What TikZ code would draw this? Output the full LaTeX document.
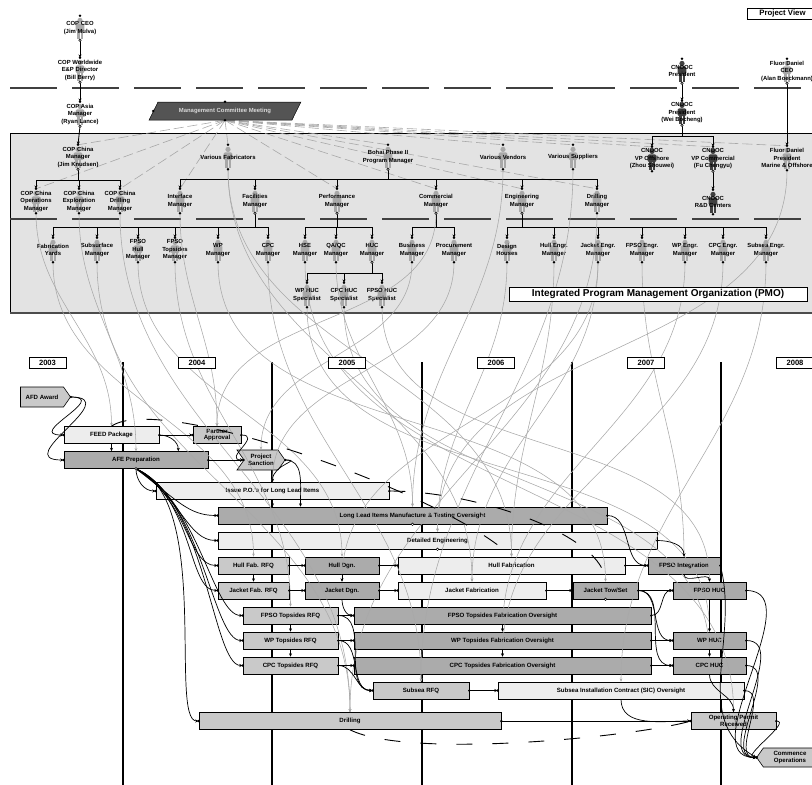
\documentclass[tikz,border=0pt]{standalone}
\usepackage{fontspec}
\setmainfont{Liberation Sans}
\usetikzlibrary{arrows.meta,shapes.geometric,shapes.symbols}

\definecolor{panelgray}{gray}{0.89}
\definecolor{tasklight}{gray}{0.93}
\definecolor{taskmid}{gray}{0.79}
\definecolor{taskdark}{gray}{0.67}
\definecolor{iconlight}{gray}{0.66}
\definecolor{icondark}{gray}{0.25}
\definecolor{linkgray}{gray}{0.66}
\definecolor{mcmfill}{gray}{0.33}

\newcommand{\orgfont}{\fontsize{5.9}{7.5}\selectfont\bfseries}
\newcommand{\taskfont}{\fontsize{6.1}{6.9}\selectfont\bfseries}
\newcommand{\yearfont}{\fontsize{7.6}{8}\selectfont\bfseries}

\pgfdeclarelayer{bg}
\pgfdeclarelayer{icons}
\pgfsetlayers{bg,icons,main}

\begin{document}
\begin{tikzpicture}[x=1pt, y=-1pt, >={Stealth[length=3.4pt,width=3pt]},
  org/.style={font=\orgfont, align=center, inner sep=0pt, minimum height=24pt},
  task/.style={draw, line width=0.6pt, font=\taskfont, align=center, inner sep=0pt, minimum height=17pt},
  light/.style={task, fill=tasklight}, mid/.style={task, fill=taskmid}, dark/.style={task, fill=taskdark},
  tag/.style={mid, shape=signal, signal pointer angle=110},
  yearbox/.style={draw, line width=0.7pt, fill=white, font=\yearfont, minimum width=37pt, minimum height=11pt, inner sep=0pt},
  tree/.style={line width=0.8pt, ->}, bus/.style={line width=0.8pt},
  dep/.style={line width=0.7pt, ->},
  depdash/.style={line width=0.9pt, dash pattern=on 16pt off 20pt},
  glink/.style={linkgray, line width=0.55pt, -{Stealth[length=3pt,width=2.6pt]}},
  mcmlink/.style={linkgray, line width=0.6pt, dash pattern=on 10pt off 4pt},
  sepline/.style={line width=1.5pt, black!75, dash pattern=on 47pt off 15pt},
  mcm/.style={trapezium, trapezium left angle=42, trapezium right angle=138, trapezium stretches=true,
    minimum width=152pt, minimum height=18pt, inner sep=0pt, draw, line width=0.5pt, fill=mcmfill,
    text=gray!30, font=\orgfont}]
\useasboundingbox (0,0) rectangle (812,785);

% background: PMO panel, level lines, years
\begin{pgfonlayer}{bg}
\fill[panelgray] (10,133) rectangle (814,313);
\draw[line width=0.6pt] (814,133) -- (10,133) -- (10,313);
\draw[line width=1.4pt, black!70] (10,313) -- (814,313);
\draw[sepline] (10,88) -- (812,88);
\draw[sepline] (10,219) -- (812,219);
\foreach \x in {123,272,422,572,721}
  \draw[line width=1.6pt] (\x,362) -- (\x,785);
\end{pgfonlayer}

% owners
\node[org] (ceo) at (80,28) {COP CEO\\(Jim Mulva)};
\node[org] (eapdir) at (80,70) {COP Worldwide\\E\&P Director\\(Bill Berry)};
\node[org] (asia) at (80,114) {COP Asia\\Manager\\(Ryan Lance)};
\node[org] (cnoocpres) at (682,71) {CNOOC\\President};
\node[org] (cnoocceo) at (682,113) {CNOOC\\President\\(Wei Bocheng)};
\node[org] (fluorceo) at (787,71) {Fluor Daniel\\CEO\\(Alan Boeckmann)};
\node[mcm] (mcm) at (225,111) {Management Committee Meeting};

% PMO, first level
\node[org] (china) at (78,157) {COP China\\Manager\\(Jim Knudsen)};
\node[org] (fabricators) at (228,157) {Various Fabricators};
\node[org] (bohai) at (388,157) {Bohai Phase II\\Program Manager};
\node[org] (vendors) at (503,157) {Various Vendors};
\node[org] (suppliers) at (573,157) {Various Suppliers};
\node[org] (vpoff) at (652,159) {CNOOC\\VP Offshore\\(Zhou Shouwei)};
\node[org] (vpcom) at (713,159) {CNOOC\\VP Commercial\\(Fu Chengyu)};
\node[org] (fluorpres) at (787,158) {Fluor Daniel\\President\\Marine \& Offshore};

% PMO, second level
\node[org] (chinaops) at (36,201) {COP China\\Operations\\Manager};
\node[org] (chinaexp) at (79,201) {COP China\\Exploration\\Manager};
\node[org] (chinadrl) at (120,201) {COP China\\Drilling\\Manager};
\node[org] (interface) at (180,201) {Interface\\Manager};
\node[org] (facilities) at (255,201) {Facilities\\Manager};
\node[org] (performance) at (337,201) {Performance\\Manager};
\node[org] (commercial) at (436,201) {Commercial\\Manager};
\node[org] (engineering) at (522,201) {Engineering\\Manager};
\node[org] (drillmgr) at (597,201) {Drilling\\Manager};
\node[org] (rnd) at (713,202) {CNOOC\\R\&D Centers};

% PMO, third level
\node[org] (fabyards) at (53,250) {Fabrication\\Yards};
\node[org] (subsurface) at (97,250) {Subsurface\\Manager};
\node[org] (fpsohull) at (138,250) {FPSO\\Hull\\Manager};
\node[org] (fpsotops) at (175,250) {FPSO\\Topsides\\Manager};
\node[org] (wpmgr) at (218,250) {WP\\Manager};
\node[org] (cpcmgr) at (268,250) {CPC\\Manager};
\node[org] (hse) at (305,250) {HSE\\Manager};
\node[org] (qaqc) at (336,250) {QA/QC\\Manager};
\node[org] (huc) at (372,250) {HUC\\Manager};
\node[org] (business) at (412,250) {Business\\Manager};
\node[org] (procurement) at (454,250) {Procurement\\Manager};
\node[org] (designh) at (507,250) {Design\\Houses};
\node[org] (hulleng) at (554,250) {Hull Engr.\\Manager};
\node[org] (jacketeng) at (598,250) {Jacket Engr.\\Manager};
\node[org] (fpsoeng) at (642,250) {FPSO Engr.\\Manager};
\node[org] (wpeng) at (685,250) {WP Engr.\\Manager};
\node[org] (cpceng) at (723,250) {CPC Engr.\\Manager};
\node[org] (subseaeng) at (766,250) {Subsea Engr.\\Manager};
\node[org] (wpspec) at (307,295) {WP HUC\\Specialist};
\node[org] (cpcspec) at (344,295) {CPC HUC\\Specialist};
\node[org] (fpsospec) at (382,295) {FPSO HUC\\Specialist};

% person icons behind the names
\begin{pgfonlayer}{icons}
\foreach \n/\c in {ceo/iconlight, eapdir/iconlight, asia/iconlight, cnoocpres/icondark, cnoocceo/icondark,
    fluorceo/iconlight, china/iconlight, fabricators/iconlight, bohai/iconlight, vendors/iconlight,
    suppliers/iconlight, vpoff/icondark, vpcom/icondark, fluorpres/iconlight, chinaops/iconlight,
    chinaexp/iconlight, chinadrl/iconlight, interface/iconlight, facilities/iconlight,
    performance/iconlight, commercial/iconlight, engineering/iconlight, drillmgr/iconlight, rnd/icondark,
    fabyards/iconlight, subsurface/iconlight, fpsohull/iconlight, fpsotops/iconlight, wpmgr/iconlight,
    cpcmgr/iconlight, hse/iconlight, qaqc/iconlight, huc/iconlight, business/iconlight,
    procurement/iconlight, designh/iconlight, hulleng/iconlight, jacketeng/iconlight, fpsoeng/iconlight,
    wpeng/iconlight, cpceng/iconlight, subseaeng/iconlight, wpspec/iconlight, cpcspec/iconlight,
    fpsospec/iconlight} {
  \fill[\c] ([yshift=7.6pt]\n.center) circle[radius=2.6pt];
  \fill[\c, rounded corners=1.2pt] ([xshift=-4.3pt,yshift=4.6pt]\n.center) rectangle ([xshift=4.3pt,yshift=-3pt]\n.center);
  \fill[\c] ([xshift=-3.4pt,yshift=-2pt]\n.center) rectangle ([xshift=-0.5pt,yshift=-11pt]\n.center);
  \fill[\c] ([xshift=0.5pt,yshift=-2pt]\n.center) rectangle ([xshift=3.4pt,yshift=-11pt]\n.center);
}
\foreach \t in {china,chinaops,chinadrl,fabricators,interface,bohai,performance,commercial,
    vendors,engineering,suppliers,drillmgr,vpoff,vpcom,fluorpres}
  \draw[mcmlink] (mcm.south) -- (\t.north);
\end{pgfonlayer}

% schedule
\node[tag, signal to=east, minimum width=50pt, minimum height=20pt] (afd) at (42,397) {AFD Award};
\node[light, minimum width=95pt] (feed) at (111.5,435) {FEED Package};
\node[mid, minimum width=48pt] (partner) at (217,435) {Partner\\Approval};
\node[dark, minimum width=144pt] (afe) at (136,460) {AFE Preparation};
\node[tag, signal from=west, signal to=east, minimum width=48pt, minimum height=20pt] (sanction) at (261,460) {Project\\Sanction};
\node[light, minimum width=233pt] (issuepo) at (272.5,491) {Issue P.O.'s for Long Lead Items};
\node[dark, minimum width=389pt] (longlead) at (412.5,515.5) {Long Lead Items Manufacture \& Testing Oversight};
\node[light, minimum width=439pt] (detailed) at (437.5,540.5) {Detailed Engineering};
\node[mid, minimum width=71pt] (hullrfq) at (253.5,565.5) {Hull Fab. RFQ};
\node[dark, minimum width=74pt] (hulldgn) at (342,565.5) {Hull Dgn.};
\node[light, minimum width=227pt] (hullfab) at (511.5,565.5) {Hull Fabrication};
\node[dark, minimum width=72pt] (fpsoint) at (684,565.5) {FPSO Integration};
\node[mid, minimum width=71pt] (jacketrfq) at (253.5,590.5) {Jacket Fab. RFQ};
\node[dark, minimum width=74pt] (jacketdgn) at (342,590.5) {Jacket Dgn.};
\node[light, minimum width=148pt] (jacketfab) at (472,590.5) {Jacket Fabrication};
\node[dark, minimum width=65pt] (jackettow) at (605.5,590.5) {Jacket Tow/Set};
\node[dark, minimum width=73pt] (fpsohuc) at (709.5,590.5) {FPSO HUC};
\node[mid, minimum width=95pt] (fpsotopsrfq) at (290.5,615.5) {FPSO Topsides RFQ};
\node[dark, minimum width=297pt] (fpsotopsfab) at (502.5,615.5) {FPSO Topsides Fabrication Oversight};
\node[mid, minimum width=95pt] (wptopsrfq) at (290.5,640.5) {WP Topsides RFQ};
\node[dark, minimum width=297pt] (wptopsfab) at (502.5,640.5) {WP Topsides Fabrication Oversight};
\node[dark, minimum width=73pt] (wphuc) at (709.5,640.5) {WP HUC};
\node[mid, minimum width=95pt] (cpctopsrfq) at (290.5,665.5) {CPC Topsides RFQ};
\node[dark, minimum width=297pt] (cpctopsfab) at (502.5,665.5) {CPC Topsides Fabrication Oversight};
\node[dark, minimum width=73pt] (cpchuc) at (709.5,665.5) {CPC HUC};
\node[mid, minimum width=96pt] (subsearfq) at (421,690.5) {Subsea RFQ};
\node[light, minimum width=246pt] (sic) at (621,690.5) {Subsea Installation Contract (SIC) Oversight};
\node[mid, minimum width=302pt] (drilling) at (350,721) {Drilling};
\node[mid, minimum width=85pt] (oppermit) at (733.5,721) {Operating Permit\\Received};
\node[tag, signal to=west, minimum width=60pt, minimum height=19pt] (commence) at (790,757.5) {Commence\\Operations};

% reporting lines
\draw[tree] (ceo.south) -- (eapdir.north);
\draw[tree] (eapdir.south) -- (asia.north);
\draw[tree] (asia.south) -- (china.north);
\draw[tree] (cnoocpres.south) -- (cnoocceo.north);
\draw[tree] (vpcom.south) -- (rnd.north);
\draw[tree] (fluorceo.south) -- (fluorpres.north);
\coordinate (chinabus) at (78,180);
\coordinate (bohaibus) at (388,179);
\coordinate (cnoocbus) at (682,136);
\coordinate (facbus) at (255,227);
\coordinate (perfbus) at (337,227);
\coordinate (combus) at (436,227);
\coordinate (engbus) at (522,227);
\coordinate (hucbus) at (372,273);
\foreach \p/\b/\first/\last/\kids in {
    china/chinabus/chinaops/chinadrl/{chinaops,chinaexp,chinadrl},
    bohai/bohaibus/interface/drillmgr/{interface,facilities,performance,commercial,engineering,drillmgr},
    cnoocceo/cnoocbus/vpoff/vpcom/{vpoff,vpcom},
    facilities/facbus/fabyards/cpcmgr/{fabyards,subsurface,fpsohull,fpsotops,wpmgr,cpcmgr},
    performance/perfbus/hse/huc/{hse,qaqc,huc},
    commercial/combus/business/procurement/{business,procurement},
    engineering/engbus/designh/subseaeng/{designh,hulleng,jacketeng,fpsoeng,wpeng,cpceng,subseaeng},
    huc/hucbus/wpspec/fpsospec/{wpspec,cpcspec,fpsospec}} {
  \draw[bus] (\p.south) -- (\b);
  \draw[bus] (\first.north |- \b) -- (\last.north |- \b);
  \foreach \k in \kids
    \draw[tree] (\k.north |- \b) -- (\k.north);
}

% who looks after which task
\foreach \s/\t in {chinaops/feed, chinaexp/afe, commercial/partner, interface/partner, business/sanction,
    procurement/issuepo, qaqc/longlead, vendors/longlead, designh/detailed, fluorpres/detailed,
    fabyards/hullrfq, fpsohull/hulldgn, hulleng/hullfab, fabricators/hullfab, fabricators/jacketfab,
    jacketeng/jacketdgn, jacketeng/jacketfab, wpmgr/jackettow, fpsoeng/fpsoint, fpsospec/fpsohuc,
    fpsotops/fpsotopsrfq, wpeng/wptopsfab, cpceng/cpctopsfab, wpspec/wphuc, cpcspec/cpchuc,
    cpcmgr/subsearfq, suppliers/subsearfq, subseaeng/sic, subsurface/drilling, chinadrl/drilling,
    drillmgr/drilling, hse/oppermit}
  \draw[glink] (\s.south) to[out=-90,in=90] (\t.north);

% task logic
\draw[dep] (afd.east) to[out=0,in=180,looseness=2.6] (feed.west);
\draw[dep] (afd.east) to[out=0,in=180,looseness=2.2] (afe.west);
\draw[dep] (feed.east) -- (partner.west);
\draw[dep] (feed.south) -- (feed.south |- afe.north);
\draw[dep] (feed.east) to[out=0,in=90] ([xshift=-30pt]afe.north east);
\draw[dep] (afe.east) -- (sanction.west);
\draw[dep] (partner.east) to[out=0,in=180,looseness=2.2] (sanction.west);
\draw[dep] (afe.south) to[out=-90,in=180] (issuepo.west);
\foreach \t/\d in {longlead/40,detailed/46,hullrfq/52,jacketrfq/58,fpsotopsrfq/62,wptopsrfq/66,cpctopsrfq/70,drilling/76}
  \draw[dep] (afe.south) .. controls +(\d,30) and +(-30,0) .. (\t.west);
\draw[dep] (sanction.east) to[out=0,in=90,looseness=1.8] (issuepo.north);
\draw[dep] (sanction.east) .. controls +(18,0) and +(0,-25) .. ([xshift=-112pt]longlead.north);
\draw[dep] (issuepo.south) -- (issuepo.south |- longlead.north);
\draw[depdash] (issuepo.east) .. controls +(90,0) and +(0,-45) .. (jackettow.north);
\draw[depdash] (feed.north) .. controls +(50,-35) and +(-60,-60) .. (hullfab.north);
\draw[depdash] (drilling.south) .. controls +(60,30) and +(-50,15) .. (oppermit.west);
\draw[dep] (hullrfq.east) -- (hulldgn.west);
\draw[dep] (hulldgn.east) -- (hullfab.west);
\draw[dep] (hullfab.east) -- (fpsoint.west);
\draw[dep] (jacketrfq.east) -- (jacketdgn.west);
\draw[dep] (jacketdgn.east) -- (jacketfab.west);
\draw[dep] (jacketfab.east) -- (jackettow.west);
\draw[dep] (jackettow.east) -- (fpsohuc.west);
\draw[dep] (jackettow.east) to[out=0,in=180] (wphuc.west);
\draw[dep] (jackettow.east) to[out=0,in=180] (cpchuc.west);
\draw[dep] (hullrfq.south) -- (jacketrfq.north);
\draw[dep] (hulldgn.south) -- (jacketdgn.north);
\draw[dep] (fpsotopsrfq.east) -- (fpsotopsfab.west);
\draw[dep] (wptopsrfq.east) -- (wptopsfab.west);
\draw[dep] (cpctopsrfq.east) -- (cpctopsfab.west);
\draw[dep] (fpsotopsrfq.south) -- (wptopsrfq.north);
\draw[dep] (wptopsrfq.south) -- (cpctopsrfq.north);
\draw[dep] (fpsotopsfab.south) -- (wptopsfab.north);
\draw[dep] (wptopsfab.south) -- (cpctopsfab.north);
\foreach \s in {fpsotopsrfq,wptopsrfq,cpctopsrfq}
  \draw[dep] (\s.east) to[out=0,in=180] (subsearfq.west);
\draw[dep] (jacketdgn.south) to[out=-90,in=180] (fpsotopsfab.west);
\draw[dep] (subsearfq.east) -- (sic.west);
\draw[dep] (fpsotopsfab.east) to[out=0,in=180] (fpsohuc.west);
\draw[dep] (wptopsfab.east) -- (wphuc.west);
\draw[dep] (cpctopsfab.east) -- (cpchuc.west);
\draw[dep] (longlead.east) to[out=0,in=180] (fpsoint.west);
\draw[dep] (detailed.east) to[out=0,in=90] (fpsoint.north);
\draw[dep] (fpsoint.south) to[out=-90,in=90] (fpsohuc.north);
\draw[dep] (fpsohuc.south) -- (wphuc.north);
\draw[dep] (wphuc.south) -- (cpchuc.north);
\draw[dep] (cpchuc.south) to[out=-90,in=90] (oppermit.north);
\draw[dep] (sic.south) to[out=-90,in=180] (oppermit.west);
\draw[dep] (drilling.east) -- (oppermit.west);
\foreach \s in {fpsohuc,wphuc,cpchuc,sic,oppermit}
  \draw[dep] (\s.east) to[out=0,in=180] (commence.west);
\draw[dep] (fpsoint.east) to[out=-75,in=150] (commence.west);

% end points
\foreach \n in {ceo,eapdir,asia,cnoocpres,cnoocceo,fluorceo,china,fabricators,bohai,vendors,suppliers,
    vpoff,vpcom,fluorpres,chinaops,chinaexp,chinadrl,interface,facilities,performance,commercial,
    engineering,drillmgr,rnd,fabyards,subsurface,fpsohull,fpsotops,wpmgr,cpcmgr,hse,qaqc,huc,business,
    procurement,designh,hulleng,jacketeng,fpsoeng,wpeng,cpceng,subseaeng,wpspec,cpcspec,fpsospec}
  \fill (\n.north) circle[radius=1.4pt];
\foreach \n in {fabricators,vendors,suppliers,vpoff,fluorpres,chinaops,chinaexp,chinadrl,interface,
    drillmgr,rnd,fabyards,subsurface,fpsohull,fpsotops,wpmgr,cpcmgr,hse,qaqc,business,procurement,
    designh,hulleng,jacketeng,fpsoeng,wpeng,cpceng,subseaeng,wpspec,cpcspec,fpsospec}
  \fill (\n.south) circle[radius=1.4pt];
\foreach \n in {ceo,eapdir,asia,cnoocpres,cnoocceo,fluorceo,china,bohai,vpcom,facilities,performance,
    commercial,engineering,huc}
  \filldraw[fill=white, line width=0.5pt] (\n.south) circle[radius=1.3pt];
\fill (mcm.north) circle[radius=1.4pt];
\fill (mcm.south) circle[radius=1.4pt];
\fill (mcm.west) circle[radius=1.4pt];
\foreach \t in {feed,partner,afe,issuepo,longlead,detailed,hullrfq,hulldgn,hullfab,fpsoint,jacketrfq,
    jacketdgn,jacketfab,jackettow,fpsohuc,fpsotopsrfq,fpsotopsfab,wptopsrfq,wptopsfab,wphuc,
    cpctopsrfq,cpctopsfab,cpchuc,subsearfq,sic,drilling,oppermit,sanction} {
  \fill (\t.west) circle[radius=1.3pt];
  \fill (\t.east) circle[radius=1.3pt];
}
\fill (afd.east) circle[radius=1.3pt];
\fill (commence.west) circle[radius=1.5pt];
\foreach \t in {afe,longlead,jackettow,detailed}
  \filldraw[fill=white, line width=0.5pt] (\t.south) circle[radius=1.3pt];

% labels on top
\node[draw, line width=0.8pt, fill=white, font=\fontsize{10}{11}\selectfont\bfseries,
  minimum width=298pt, minimum height=14pt, inner sep=0pt] (pmo) at (658,294)
  {Integrated Program Management Organization (PMO)};
\node[draw, line width=0.7pt, fill=white, font=\fontsize{7.8}{8}\selectfont\bfseries,
  minimum width=71pt, minimum height=11pt, inner sep=0pt] (view) at (782.5,13.5) {Project View};
\foreach \yr/\x in {2003/47.5, 2004/197, 2005/347, 2006/496, 2007/646, 2008/795}
  \node[yearbox] (yr\yr) at (\x,362.5) {\yr};
\end{tikzpicture}
\end{document}
